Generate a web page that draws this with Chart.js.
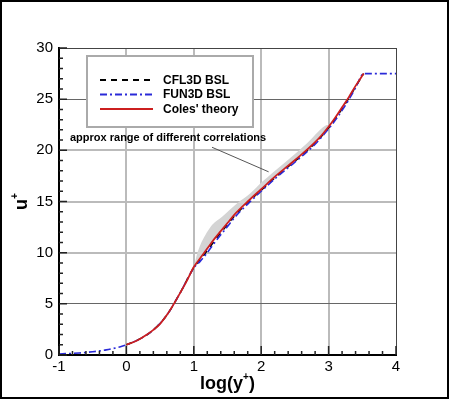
<!DOCTYPE html>
<html>
<head>
<meta charset="utf-8">
<script src="https://cdn.jsdelivr.net/npm/chart.js@4/dist/chart.umd.min.js"></script>
<style>body{margin:0;background:#fff}</style>
</head>
<body>
<canvas id="c" width="450" height="400"></canvas>
<script>
// tick labels
var xTicks = [-1, 0, 1, 2, 3, 4];
var yTicks = [0, 5, 10, 15, 20, 25, 30];

// Coles' theory (red)
var colesX = [0, 0.1, 0.2, 0.3, 0.4, 0.5, 0.6, 0.7, 0.8, 0.9, 1.0, 1.1, 1.2, 1.3, 1.4, 1.5, 1.6, 1.8, 2.0, 2.2, 2.4, 2.6, 2.8, 2.9, 3.0, 3.1, 3.2, 3.3, 3.4, 3.52];
var colesU = [1.0, 1.25, 1.57, 1.97, 2.45, 3.05, 3.9, 4.95, 6.1, 7.3, 8.6, 9.5, 10.4, 11.3, 12.1, 12.9, 13.7, 15.0, 16.2, 17.4, 18.5, 19.6, 20.8, 21.5, 22.3, 23.2, 24.2, 25.2, 26.3, 27.5];

// FUN3D BSL (blue dash-dot)
var fun3dX = [-1, -0.9, -0.8, -0.7, -0.6, -0.5, -0.4, -0.3, -0.2, -0.1, 0, 0.2, 0.4, 0.6, 0.8, 1.0, 1.1, 1.2, 1.3, 1.4, 1.5, 1.6, 1.8, 2.0, 2.2, 2.4, 2.6, 2.8, 3.0, 3.1, 3.2, 3.3, 3.4, 3.52, 3.7, 4.0];
var fun3dU = [0.1, 0.13, 0.16, 0.2, 0.25, 0.32, 0.4, 0.5, 0.63, 0.79, 1.0, 1.57, 2.45, 3.9, 6.1, 8.5, 9.2, 10.0, 10.9, 11.75, 12.55, 13.4, 14.75, 16.0, 17.2, 18.3, 19.4, 20.6, 22.1, 22.95, 23.9, 24.95, 26.1, 27.5, 27.5, 27.5];

// CFL3D BSL (black dashed)
var cfl3dX = [0, 0.2, 0.4, 0.6, 0.8, 1.0, 1.1, 1.2, 1.3, 1.4, 1.5, 1.6, 1.8, 2.0, 2.2, 2.4, 2.6, 2.8, 3.0, 3.1, 3.2, 3.3, 3.4, 3.52];
var cfl3dU = [1.0, 1.57, 2.45, 3.9, 6.1, 8.55, 9.35, 10.2, 11.1, 11.95, 12.75, 13.55, 14.9, 16.1, 17.3, 18.4, 19.5, 20.7, 22.2, 23.1, 24.05, 25.1, 26.2, 27.5];

// grey band: range of different correlations
var bandX = [1.0, 1.05, 1.1, 1.17, 1.27, 1.42, 1.64, 1.84, 2.01, 2.33, 2.68, 2.95, 3.0];
var bandTop = [8.6, 9.9, 10.8, 11.7, 12.7, 13.5, 14.8, 15.8, 16.9, 18.7, 20.7, 22.4, 22.5];
var bandLow = [8.6, 9.0, 9.4, 10.1, 11.0, 12.3, 14.0, 15.2, 16.3, 18.1, 20.1, 21.9, 22.2];

function pts(xs, ys) {
    return xs.map(function (x, i) { return { x: x, y: ys[i] }; });
}

var FONT = "'Liberation Sans', Arial, Helvetica, sans-serif";

//枠・目盛・凡例・注記を描く
var deco = {
    id: 'deco',
    afterDraw: function (chart) {
        var ctx = chart.ctx, xs = chart.scales.x, ys = chart.scales.y, a = chart.chartArea;
        ctx.save();

        // axis lines
        ctx.strokeStyle = '#000';
        ctx.lineWidth = 2;
        ctx.beginPath();
        ctx.moveTo(a.left, a.top - 1);
        ctx.lineTo(a.left, a.bottom);
        ctx.lineTo(a.right + 1, a.bottom);
        ctx.stroke();

        // inside ticks
        ctx.lineWidth = 1.5;
        ctx.strokeStyle = '#222';
        ctx.beginPath();
        for (var v = 0; v <= 30; v++) {
            var py = ys.getPixelForValue(v);
            var len = v % 5 == 0 ? 8 : 4;
            ctx.moveTo(a.left, py);
            ctx.lineTo(a.left + len, py);
        }
        for (var i = 0; i <= 25; i++) {
            var px = xs.getPixelForValue(-1 + i * 0.2);
            var l2 = i % 5 == 0 ? 9 : 4;
            ctx.moveTo(px, a.bottom);
            ctx.lineTo(px, a.bottom - l2);
        }
        ctx.stroke();

        // outer frame
        ctx.strokeStyle = '#000';
        ctx.lineWidth = 2;
        ctx.strokeRect(1, 1, 447, 397);

        // legend
        ctx.fillStyle = '#fff';
        ctx.fillRect(87, 56, 166, 71);
        ctx.strokeStyle = '#aaa';
        ctx.lineWidth = 2;
        ctx.strokeRect(87, 56, 166, 71);
        var items = [
            { t: 'CFL3D BSL', c: '#000', d: [6, 5], y: 80 },
            { t: 'FUN3D BSL', c: '#2a2ad8', d: [7, 3, 2, 3], y: 94.5 },
            { t: "Coles' theory", c: '#cc1f1f', d: [], y: 109 }
        ];
        items.forEach(function (it) {
            ctx.strokeStyle = it.c;
            ctx.lineWidth = 1.8;
            ctx.setLineDash(it.d);
            ctx.beginPath();
            ctx.moveTo(100, it.y);
            ctx.lineTo(153, it.y);
            ctx.stroke();
            ctx.setLineDash([]);
            ctx.fillStyle = '#000';
            ctx.font = 'bold 12px ' + FONT;
            ctx.textBaseline = 'middle';
            ctx.textAlign = 'left';
            ctx.fillText(it.t, 163, it.y + 0.5);
        });

        // annotation
        ctx.font = 'bold 11px ' + FONT;
        ctx.textBaseline = 'alphabetic';
        ctx.fillStyle = '#000';
        ctx.fillText('approx range of different correlations', 70, 141);
        ctx.strokeStyle = '#555';
        ctx.lineWidth = 1;
        ctx.beginPath();
        ctx.moveTo(xs.getPixelForValue(1.27), ys.getPixelForValue(20.3));
        ctx.lineTo(xs.getPixelForValue(2.11), ys.getPixelForValue(17.9));
        ctx.stroke();

        // x title log(y+)
        var big = 'bold 18px ' + FONT, sm = 'bold 10px ' + FONT;
        ctx.font = big;
        var w1 = ctx.measureText('log(y').width, w3 = ctx.measureText(')').width;
        ctx.font = sm;
        var w2 = ctx.measureText('+').width;
        var x0 = (a.left + a.right) / 2 - (w1 + w2 + w3) / 2;
        ctx.font = big;
        ctx.fillText('log(y', x0, 389);
        ctx.font = sm;
        ctx.fillText('+', x0 + w1, 380);
        ctx.font = big;
        ctx.fillText(')', x0 + w1 + w2, 389);

        // y title u+
        ctx.translate(27, (a.top + a.bottom) / 2);
        ctx.rotate(-Math.PI / 2);
        ctx.font = big;
        var wu = ctx.measureText('u').width;
        ctx.font = sm;
        var wp = ctx.measureText('+').width;
        ctx.font = big;
        ctx.fillText('u', -(wu + wp) / 2, 0);
        ctx.font = sm;
        ctx.fillText('+', -(wu + wp) / 2 + wu, -9);

        ctx.restore();
    }
};

function gridColor(c, thinVals, edge) {
    var v = c.tick.value;
    if (v == edge[0]) return 'rgba(0,0,0,0)';
    if (v == edge[1]) return '#444';
    if (thinVals.indexOf(v) >= 0) return '#666';
    return '#bbb';
}

new Chart(document.getElementById('c'), {
    type: 'scatter',
    data: {
        datasets: [
            { label: "Coles' theory", data: pts(colesX, colesU), showLine: true, borderColor: '#cc1f1f', borderWidth: 1.8, pointRadius: 0, fill: false, cubicInterpolationMode: 'monotone' },
            { label: 'FUN3D BSL', data: pts(fun3dX, fun3dU), showLine: true, borderColor: '#2a2ad8', borderWidth: 1.6, borderDash: [7, 3, 2, 3], pointRadius: 0, fill: false, cubicInterpolationMode: 'monotone' },
            { label: 'CFL3D BSL', data: pts(cfl3dX, cfl3dU), showLine: true, borderColor: '#000', borderWidth: 1.5, borderDash: [6, 5], pointRadius: 0, fill: false, cubicInterpolationMode: 'monotone' },
            { label: 'band low', data: pts(bandX, bandLow), showLine: true, borderWidth: 0, borderColor: 'rgba(0,0,0,0)', pointRadius: 0, fill: false, cubicInterpolationMode: 'monotone' },
            { label: 'band top', data: pts(bandX, bandTop), showLine: true, borderWidth: 0, borderColor: 'rgba(0,0,0,0)', backgroundColor: '#d4d4d4', pointRadius: 0, fill: '-1', cubicInterpolationMode: 'monotone' }
        ]
    },
    options: {
        responsive: false,
        animation: false,
        devicePixelRatio: 1,
        layout: { padding: { left: 0, top: 48, right: 54, bottom: 0 } },
        plugins: { legend: { display: false }, tooltip: { enabled: false } },
        scales: {
            x: {
                type: 'linear', min: -1, max: 4,
                afterBuildTicks: function (s) { s.ticks = xTicks.map(function (v) { return { value: v }; }); },
                afterFit: function (s) { s.height = 45; },
                border: { display: false },
                grid: {
                    drawTicks: false,
                    color: function (c) { return gridColor(c, [], [-1, 4]); },
                    lineWidth: function (c) { return (c.tick.value == 4) ? 1 : 2; }
                },
                ticks: { color: '#000', padding: 3, font: { size: 15, family: FONT }, maxRotation: 0 }
            },
            y: {
                type: 'linear', min: 0, max: 30,
                afterBuildTicks: function (s) { s.ticks = yTicks.map(function (v) { return { value: v }; }); },
                afterFit: function (s) { s.width = 59; },
                border: { display: false },
                grid: {
                    drawTicks: false,
                    color: function (c) { return gridColor(c, [5, 25], [0, 30]); },
                    lineWidth: function (c) { var v = c.tick.value; return (v == 5 || v == 25 || v == 30) ? 1 : 2; }
                },
                ticks: { color: '#000', padding: 6, font: { size: 15, family: FONT } }
            }
        }
    },
    plugins: [deco]
});
</script>
</body>
</html>
